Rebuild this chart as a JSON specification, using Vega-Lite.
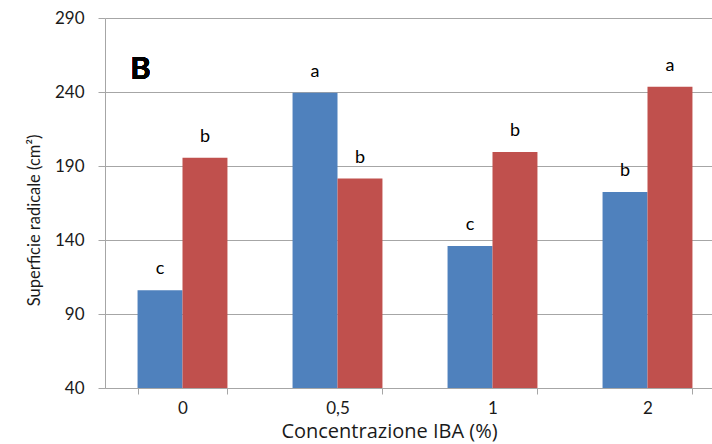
{
  "$schema": "https://vega.github.io/schema/vega-lite/v6.json",
  "width": 607,
  "height": 370,
  "autosize": {"type": "none"},
  "padding": {"left": 105, "top": 18, "right": 0, "bottom": 56},
  "config": {"view": {"stroke": null}, "font": "Lato"},
  "data": {
    "values": [
      {"conc": "0", "serie": "S1", "val": 106, "lettera": "c"},
      {"conc": "0", "serie": "S2", "val": 195.5, "lettera": "b"},
      {"conc": "0,5", "serie": "S1", "val": 239.5, "lettera": "a"},
      {"conc": "0,5", "serie": "S2", "val": 181.5, "lettera": "b"},
      {"conc": "1", "serie": "S1", "val": 136, "lettera": "c"},
      {"conc": "1", "serie": "S2", "val": 199.5, "lettera": "b"},
      {"conc": "2", "serie": "S1", "val": 172.5, "lettera": "b"},
      {"conc": "2", "serie": "S2", "val": 243.5, "lettera": "a"}
    ]
  },
  "layer": [
    {
      "mark": {"type": "bar"},
      "encoding": {
        "x": {
          "field": "conc",
          "type": "nominal",
          "sort": ["0", "0,5", "1", "2"],
          "scale": {"range": [0, 620], "paddingInner": 0.42, "paddingOuter": 0.21},
          "axis": {
            "title": "Concentrazione IBA (%)",
            "labelAngle": 0,
            "labelFontSize": 17,
            "labelColor": "#1a1a1a",
            "labelPadding": 6,
            "titleFont": "Open Sans",
            "titleFontSize": 20,
            "titleFontWeight": "normal",
            "titleColor": "#1a1a1a",
            "titlePadding": 5,
            "titleX": 284,
            "tickBand": "extent",
            "tickSize": 6,
            "tickColor": "#a6a6a6",
            "domainColor": "#a6a6a6",
            "grid": false
          }
        },
        "xOffset": {"field": "serie", "type": "nominal", "scale": {"paddingInner": 0, "paddingOuter": 0}},
        "y": {
          "field": "val",
          "type": "quantitative",
          "scale": {"domain": [40, 290], "nice": false, "zero": false},
          "axis": {
            "title": "Superficie radicale (cm²)",
            "values": [40, 90, 140, 190, 240, 290],
            "labelFontSize": 17,
            "labelColor": "#1a1a1a",
            "labelPadding": 14,
            "tickSize": 7,
            "tickColor": "#a6a6a6",
            "domainColor": "#a6a6a6",
            "gridColor": "#a6a6a6",
            "titleFontSize": 16.5,
            "titleFontWeight": "normal",
            "titleColor": "#1a1a1a",
            "titlePadding": 12,
            "titleY": 202
          }
        },
        "y2": {"datum": 40},
        "color": {
          "field": "serie",
          "type": "nominal",
          "scale": {"domain": ["S1", "S2"], "range": ["#4F81BD", "#C0504D"]},
          "legend": null
        }
      }
    },
    {
      "mark": {"type": "text", "dy": -21, "baseline": "middle", "fontSize": 18, "color": "#000000"},
      "encoding": {
        "x": {"field": "conc", "type": "nominal", "sort": ["0", "0,5", "1", "2"]},
        "xOffset": {"field": "serie", "type": "nominal"},
        "y": {"field": "val", "type": "quantitative"},
        "text": {"field": "lettera"}
      }
    },
    {
      "mark": {"type": "text", "dx": -42, "baseline": "middle", "fontSize": 31, "fontWeight": "bold", "color": "#000000"},
      "encoding": {
        "x": {"datum": "0", "type": "nominal"},
        "y": {"datum": 255, "type": "quantitative"},
        "text": {"value": "B"}
      }
    }
  ]
}
